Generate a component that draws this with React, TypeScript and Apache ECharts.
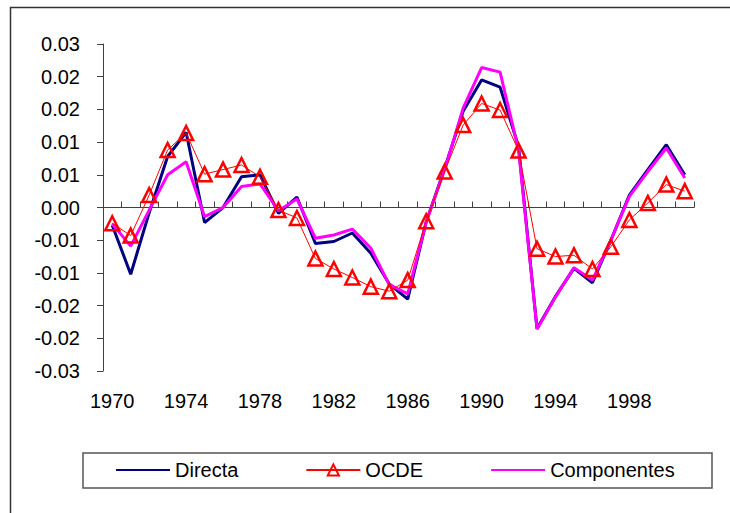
import React, { useEffect, useRef } from "react";
import * as echarts from "echarts";

const years = [
  "1970","1971","1972","1973","1974","1975","1976","1977","1978","1979",
  "1980","1981","1982","1983","1984","1985","1986","1987","1988","1989",
  "1990","1991","1992","1993","1994","1995","1996","1997","1998","1999",
  "2000","2001",
];

const directa = [
  -0.0027, -0.0102, -0.0008, 0.0078, 0.0115, -0.0023, 0.0, 0.0047, 0.005, -0.0009,
  0.0016, -0.0055, -0.0052, -0.0039, -0.007, -0.0117, -0.014, -0.0022, 0.006, 0.0147,
  0.0195, 0.0184, 0.0093, -0.0185, -0.0136, -0.0093, -0.0115, -0.005, 0.0019, 0.0058,
  0.0096, 0.005,
];

const ocde = [
  -0.0024, -0.0043, 0.0019, 0.0088, 0.0114, 0.0051, 0.0058, 0.0065, 0.0047, -0.0004,
  -0.0016, -0.0078, -0.0094, -0.0107, -0.0121, -0.0128, -0.0111, -0.0021, 0.0055, 0.0126,
  0.0159, 0.0149, 0.0087, -0.0063, -0.0075, -0.0073, -0.0094, -0.006, -0.0019, 0.0007,
  0.0035, 0.0025,
];

const componentes = [
  -0.0025, -0.0059, -0.0004, 0.005, 0.007, -0.0014, 0.0, 0.0032, 0.0036, -0.0005,
  0.0013, -0.0047, -0.0042, -0.0033, -0.0062, -0.0118, -0.0132, -0.0022, 0.0058, 0.0152,
  0.0214, 0.0207, 0.0088, -0.0186, -0.0137, -0.0092, -0.0111, -0.005, 0.0017, 0.0055,
  0.0091, 0.0045,
];

const yTickLabels = [
  "-0.03", "-0.02", "-0.02", "-0.01", "-0.01", "0.00",
  "0.01", "0.01", "0.02", "0.02", "0.03",
];

const Y_MIN = -0.025;
const Y_MAX = 0.025;
const Y_STEP = 0.005;

const FONT = "'Liberation Sans', Arial, sans-serif";
const AXIS_COLOR = "#404040";

export default function App() {
  const ref = useRef<HTMLDivElement>(null);

  useEffect(() => {
    if (!ref.current) return;
    const chart = echarts.init(ref.current, null, { renderer: "svg" });
    chart.setOption({
      animation: false,
      backgroundColor: "#ffffff",
      textStyle: { fontFamily: FONT, color: "#000" },
      grid: { left: 103, top: 44, right: 36, bottom: 142, containLabel: false },
      legend: {
        left: 115,
        top: 460,
        padding: 0,
        itemWidth: 54,
        itemHeight: 14,
        itemGap: 67,
        textStyle: { fontFamily: FONT, fontSize: 20, color: "#000" },
        data: [
          { name: "Directa", itemStyle: { opacity: 0 } },
          { name: "OCDE" },
          { name: "Componentes", itemStyle: { opacity: 0 } },
        ],
      },
      graphic: [
        {
          type: "rect",
          shape: { x: 10.5, y: 7.5, width: 800, height: 600 },
          style: { fill: "none", stroke: "#333", lineWidth: 1.5 },
          silent: true,
          z: -10,
        },
        {
          type: "rect",
          shape: { x: 83, y: 453, width: 629, height: 35 },
          style: { fill: "none", stroke: "#555", lineWidth: 1.5 },
          silent: true,
        },
      ],
      xAxis: [
        {
          type: "category",
          data: years,
          boundaryGap: true,
          position: "bottom",
          axisLine: { show: true, onZero: true, lineStyle: { color: AXIS_COLOR, width: 1 } },
          axisTick: { show: true, inside: true, length: 6, interval: 0, lineStyle: { color: AXIS_COLOR } },
          axisLabel: { show: false },
          splitLine: { show: false },
        },
        {
          type: "category",
          data: years,
          boundaryGap: true,
          position: "bottom",
          axisLine: { show: false, onZero: false },
          axisTick: { show: false },
          axisLabel: {
            show: true,
            interval: 3,
            margin: 20,
            fontSize: 20,
            fontFamily: FONT,
            color: "#000",
          },
          splitLine: { show: false },
        },
      ],
      yAxis: {
        type: "value",
        min: Y_MIN,
        max: Y_MAX,
        interval: Y_STEP,
        position: "left",
        axisLine: { show: true, onZero: false, lineStyle: { color: AXIS_COLOR, width: 1 } },
        axisTick: { show: true, inside: false, length: 6, lineStyle: { color: AXIS_COLOR } },
        splitLine: { show: false },
        axisLabel: {
          margin: 23,
          fontSize: 20,
          fontFamily: FONT,
          color: "#000",
          formatter: (v: number) => {
            const i = Math.round((v - Y_MIN) / Y_STEP);
            return yTickLabels[i] ?? "";
          },
        },
      },
      series: [
        {
          name: "Directa",
          type: "line",
          xAxisIndex: 0,
          data: directa,
          symbol: "none",
          color: "#000080",
          lineStyle: { color: "#000080", width: 3 },
          itemStyle: { color: "#000080" },
          z: 2,
        },
        {
          name: "OCDE",
          type: "line",
          xAxisIndex: 0,
          data: ocde,
          symbol: "triangle",
          symbolSize: 14,
          showSymbol: true,
          showAllSymbol: true,
          color: "#ff0000",
          lineStyle: { color: "#ff0000", width: 1 },
          itemStyle: { color: "rgba(255,255,255,0)", borderColor: "#ff0000", borderWidth: 2.5 },
          z: 4,
        },
        {
          name: "Componentes",
          type: "line",
          xAxisIndex: 0,
          data: componentes,
          symbol: "none",
          color: "#ff00ff",
          lineStyle: { color: "#ff00ff", width: 3 },
          itemStyle: { color: "#ff00ff" },
          z: 3,
        },
      ],
    });
    return () => chart.dispose();
  }, []);

  return (
    <div
      ref={ref}
      style={{ position: "fixed", left: 0, top: 0, width: 730, height: 513, background: "#fff" }}
    />
  );
}
